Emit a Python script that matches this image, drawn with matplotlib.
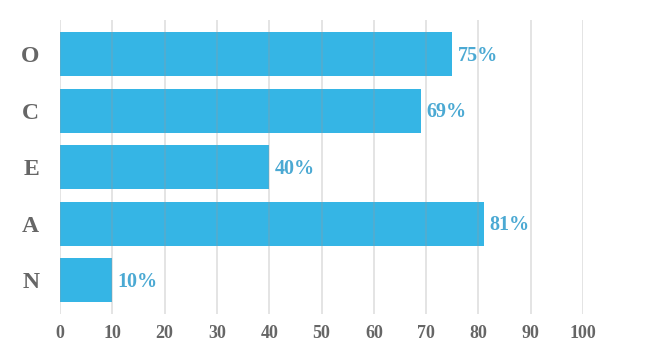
import matplotlib.pyplot as plt

letters = ["O", "C", "E", "A", "N"]
scores = [75, 69, 40, 81, 10]
ticks = [0, 10, 20, 30, 40, 50, 60, 70, 80, 90, 100]

bar_color = "#35b5e5"
label_color = "#4ba9d3"
text_gray = "#666666"

plt.rcParams["font.family"] = ["Liberation Serif", "DejaVu Serif"]

fig = plt.figure(figsize=(6.45, 3.58), dpi=100)
ax = fig.add_axes([0.093, 0.122, 0.811, 0.822])

ypos = list(range(len(letters)))
ax.barh(ypos, scores, height=0.78, color=bar_color, zorder=1)

# gridlines sit on top of the bars, slightly see-through
for t in ticks:
    ax.axvline(t, color="#9a9a9a", alpha=0.32, linewidth=1.2, zorder=2)

for y, v in zip(ypos, scores):
    ax.text(v + 1, y + 0.03, f"{v}%", va="center", ha="left",
            color=label_color, fontsize=14.5, fontweight="bold")

ax.set_xlim(0, 100)
ax.set_ylim(len(letters) - 0.4, -0.6)
ax.set_yticks(ypos)
ax.set_yticklabels(letters, fontsize=17, fontweight="bold", color=text_gray)
ax.set_xticks(ticks)
ax.set_xticklabels([str(t) for t in ticks], fontsize=13, fontweight="bold", color=text_gray)
ax.tick_params(axis="both", length=0)
ax.tick_params(axis="x", pad=8)
ax.tick_params(axis="y", pad=15)
for s in ax.spines.values():
    s.set_visible(False)

fig.savefig("out.png", dpi=100)
